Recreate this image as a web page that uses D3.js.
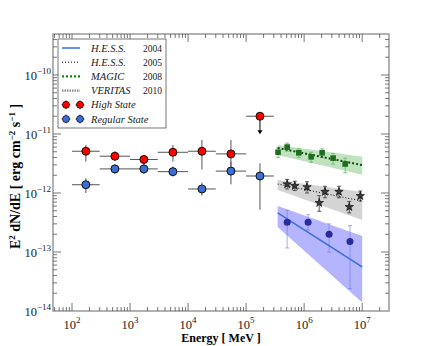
<!DOCTYPE html>
<html>
<head>
<meta charset="utf-8">
<script src="https://cdn.jsdelivr.net/npm/d3@7"></script>
<style>
  body { margin: 0; background: #fff; }
  svg text { font-family: "Liberation Serif", "DejaVu Serif", serif; }
</style>
</head>
<body>
<div id="main"></div>
<script>
// Fermi-LAT bins (MeV): edges and fluxes (erg cm^-2 s^-1)
const binEdges = [[100, 300], [300, 1000], [1000, 3000], [3000, 1e4], [1e4, 3e4], [3e4, 1e5], [1e5, 3e5]];
const highFlux = [5.1e-12, 4.2e-12, 3.7e-12, 4.9e-12, 5.1e-12, 4.6e-12];
const highLo   = [3.4e-12, 3.5e-12, 3.1e-12, 3.4e-12, 2.5e-12, 2.8e-12];
const highHi   = [6.5e-12, 5.1e-12, 4.4e-12, 6.5e-12, 7.9e-12, 7.9e-12];
const highUL   = 2.0e-11;   // last bin upper limit
const regFlux  = [1.38e-12, 2.56e-12, 2.56e-12, 2.3e-12, 1.17e-12, 2.35e-12, 1.94e-12];
const regLo    = [1.0e-12, 2.1e-12, 2.1e-12, 1.9e-12, 0.9e-12, 1.4e-12, 5.2e-13];
const regHi    = [1.78e-12, 3.1e-12, 3.1e-12, 2.8e-12, 1.5e-12, 3.4e-12, 3.2e-12];

// H.E.S.S. 2004
const hess04E    = [5.1e5, 1.17e6, 2.69e6, 6.17e6];
const hess04F    = [3.2e-13, 3.2e-13, 2.0e-13, 1.5e-13];
const hess04Lo   = [1.17e-13, 2.35e-13, 1.0e-13, 2.4e-14];
const hess04Hi   = [5.1e-13, 4.3e-13, 3.0e-13, 2.8e-13];
const hess04Fit  = [[3.5e5, 4.6e-13], [1e7, 5.6e-14]];
const hess04Band = [[3.5e5, 6.0e-13], [1e7, 1.87e-13], [1e7, 1.4e-14], [3.5e5, 2.65e-13]];

// H.E.S.S. 2005
const hess05E    = [5.1e5, 6.9e5, 1.12e6, 1.82e6, 2.29e6, 3.98e6, 6.0e6, 9.3e6];
const hess05F    = [1.41e-12, 1.32e-12, 1.26e-12, 6.8e-13, 1.05e-12, 1.05e-12, 5.8e-13, 8.9e-13];
const hess05Lo   = [1.17e-12, 1.1e-12, 1.0e-12, 4.9e-13, 8.3e-13, 8.3e-13, 4.6e-13, 7.3e-13];
const hess05Hi   = [1.7e-12, 1.58e-12, 1.55e-12, 9.0e-13, 1.3e-12, 1.3e-12, 7.2e-13, 1.08e-12];
const hess05Fit  = [[3.5e5, 1.42e-12], [1e7, 7.3e-13]];
const hess05Band = [[3.5e5, 1.66e-12], [1e7, 1.04e-12], [1e7, 3.5e-13], [3.5e5, 1.12e-12]];

// MAGIC 2008
const magicE    = [3.55e5, 5.1e5, 8.1e5, 1.32e6, 2.04e6, 3.16e6, 5.1e6];
const magicF    = [4.9e-12, 6.0e-12, 4.8e-12, 4.1e-12, 4.8e-12, 3.9e-12, 3.1e-12];
const magicLo   = [4.0e-12, 5.1e-12, 4.0e-12, 3.3e-12, 4.0e-12, 3.1e-12, 2.2e-12];
const magicHi   = [5.8e-12, 7.0e-12, 5.6e-12, 4.9e-12, 5.6e-12, 4.7e-12, 3.9e-12];
const magicFit  = [[3.5e5, 5.8e-12], [1e7, 2.97e-12]];
const magicBand = [[3.5e5, 6.5e-12], [1e7, 4.1e-12], [1e7, 2.04e-12], [3.5e5, 4.4e-12]];

const xTickLabels = ["2", "3", "4", "5", "6", "7"];
const yTickLabels = ["−14", "−13", "−12", "−11", "−10"];

const legendRows = [
  {name: "H.E.S.S.", year: "2004", kind: "line", color: "#3b6fd8", dash: null, width: 1.5},
  {name: "H.E.S.S.", year: "2005", kind: "line", color: "#000", dash: "1,2", width: 1},
  {name: "MAGIC", year: "2008", kind: "line", color: "#0a8a0a", dash: "2,2", width: 2.2},
  {name: "VERITAS", year: "2010", kind: "line", color: "#888", dash: "1.5,1", width: 2.2},
  {name: "High State", year: "", kind: "pt", color: "#ff0000"},
  {name: "Regular State", year: "", kind: "pt", color: "#3b6fd8"}
];

const W = 432, H = 346;
const m = {left: 53, top: 34, right: 389, bottom: 311};

const svg = d3.select("#main").append("svg").attr("width", W).attr("height", H);

const x = d3.scaleLog().domain([47, 2.9e7]).range([m.left, m.right]);
const y = d3.scaleLog().domain([1e-14, 4.95e-10]).range([m.bottom, m.top]);

const gBands = svg.append("g");
const gMarks = svg.append("g");

function polygon(pts, fill, op) {
  gBands.append("path")
    .attr("d", "M" + pts.map(p => x(p[0]) + "," + y(p[1])).join("L") + "Z")
    .attr("fill", fill).attr("fill-opacity", op).attr("stroke", "none");
}
function fitLine(pts, color, dash, width) {
  gMarks.append("line")
    .attr("x1", x(pts[0][0])).attr("y1", y(pts[0][1]))
    .attr("x2", x(pts[1][0])).attr("y2", y(pts[1][1]))
    .attr("stroke", color).attr("stroke-width", width)
    .attr("stroke-dasharray", dash);
}
function vErr(E, lo, hi, color, width, cap, op) {
  E.forEach((e, i) => {
    const cx = x(e);
    gMarks.append("line").attr("x1", cx).attr("x2", cx)
      .attr("y1", y(lo[i])).attr("y2", y(hi[i]))
      .attr("stroke", color).attr("stroke-width", width).attr("stroke-opacity", op);
    if (cap) {
      [lo[i], hi[i]].forEach(v => {
        gMarks.append("line").attr("x1", cx - cap).attr("x2", cx + cap)
          .attr("y1", y(v)).attr("y2", y(v))
          .attr("stroke", color).attr("stroke-width", width).attr("stroke-opacity", op);
      });
    }
  });
}

// bands
polygon(magicBand, "#2ca02c", 0.3);
polygon(hess05Band, "#a0a0a0", 0.45);
polygon(hess04Band, "#4444ff", 0.4);

// HESS 2004
vErr(hess04E, hess04Lo, hess04Hi, "#7777dd", 1, 2, 0.6);
fitLine(hess04Fit, "#3b6fd8", null, 1.6);
gMarks.selectAll(".h04").data(hess04E).enter().append("circle")
  .attr("cx", d => x(d)).attr("cy", (d, i) => y(hess04F[i])).attr("r", 3.5)
  .attr("fill", "#2b2b9b");

// HESS 2005
vErr(hess05E, hess05Lo, hess05Hi, "#333", 0.8, 2, 1);
fitLine(hess05Fit, "#000", "1,2", 1);
const star = d3.symbol().type(d3.symbolStar).size(22);
gMarks.selectAll(".h05").data(hess05E).enter().append("path")
  .attr("d", star)
  .attr("transform", (d, i) => `translate(${x(d)},${y(hess05F[i])})`)
  .attr("fill", "#3a3a3a").attr("stroke", "#000").attr("stroke-width", 0.6);

// MAGIC
vErr(magicE, magicLo, magicHi, "#6ab86a", 0.8, 2, 1);
fitLine(magicFit, "#0b4f0b", "2,2", 2);
gMarks.selectAll(".mg").data(magicE).enter().append("rect")
  .attr("x", d => x(d) - 2.8).attr("y", (d, i) => y(magicF[i]) - 2.8)
  .attr("width", 5.6).attr("height", 5.6).attr("fill", "#1e6e1e");

// Fermi points
function fermi(flux, lo, hi, color) {
  flux.forEach((f, i) => {
    const e = binEdges[i];
    const cx = x(Math.sqrt(e[0] * e[1]));
    gMarks.append("line").attr("x1", x(e[0])).attr("x2", x(e[1]))
      .attr("y1", y(f)).attr("y2", y(f)).attr("stroke", "#555").attr("stroke-width", 1);
    gMarks.append("line").attr("x1", cx).attr("x2", cx)
      .attr("y1", y(lo[i])).attr("y2", y(hi[i])).attr("stroke", "#555").attr("stroke-width", 1);
  });
  flux.forEach((f, i) => {
    const e = binEdges[i];
    gMarks.append("circle").attr("cx", x(Math.sqrt(e[0] * e[1]))).attr("cy", y(f))
      .attr("r", 4).attr("fill", color).attr("stroke", "#000").attr("stroke-width", 0.9);
  });
}
fermi(regFlux, regLo, regHi, "#3b6fd8");
fermi(highFlux, highLo, highHi, "#ff0000");

// upper limit
{
  const e = binEdges[6];
  const cx = x(Math.sqrt(e[0] * e[1]));
  const cy = y(highUL);
  gMarks.append("line").attr("x1", x(e[0])).attr("x2", x(e[1])).attr("y1", cy).attr("y2", cy)
    .attr("stroke", "#555").attr("stroke-width", 1);
  gMarks.append("line").attr("x1", cx).attr("x2", cx).attr("y1", cy).attr("y2", cy + 15)
    .attr("stroke", "#000").attr("stroke-width", 1);
  gMarks.append("path").attr("d", `M${cx - 2.5},${cy + 14}L${cx + 2.5},${cy + 14}L${cx},${cy + 18}Z`)
    .attr("fill", "#000");
  gMarks.append("circle").attr("cx", cx).attr("cy", cy).attr("r", 4)
    .attr("fill", "#ff0000").attr("stroke", "#000").attr("stroke-width", 0.9);
}

// frame
svg.append("rect").attr("x", m.left).attr("y", m.top)
  .attr("width", m.right - m.left).attr("height", m.bottom - m.top)
  .attr("fill", "none").attr("stroke", "#999").attr("stroke-width", 1.5);

// ticks
const gT = svg.append("g").attr("stroke", "#555").attr("stroke-width", 0.8);
function isMajor(v) { return Math.abs(Math.log10(v) - Math.round(Math.log10(v))) < 1e-6; }
x.ticks().forEach(v => {
  const L = isMajor(v) ? 8 : 4, px = x(v);
  if (px < m.left + 1 || px > m.right - 1) return;
  gT.append("line").attr("x1", px).attr("x2", px).attr("y1", m.bottom).attr("y2", m.bottom - L);
  gT.append("line").attr("x1", px).attr("x2", px).attr("y1", m.top).attr("y2", m.top + L);
});
y.ticks().forEach(v => {
  const L = isMajor(v) ? 8 : 4, py = y(v);
  if (py < m.top + 1 || py > m.bottom - 1) return;
  gT.append("line").attr("y1", py).attr("y2", py).attr("x1", m.left).attr("x2", m.left + L);
  gT.append("line").attr("y1", py).attr("y2", py).attr("x1", m.right).attr("x2", m.right - L);
});

// tick labels
xTickLabels.forEach(s => {
  const t = svg.append("text").attr("x", x(Math.pow(10, +s))).attr("y", 329)
    .attr("text-anchor", "middle").attr("font-size", 12.5).attr("fill", "#222");
  t.append("tspan").text("10");
  t.append("tspan").attr("dy", -6).attr("font-size", 9).text(s);
});
yTickLabels.forEach(s => {
  const v = Math.pow(10, -(+s.replace("−", "")));
  const t = svg.append("text").attr("x", 51).attr("y", y(v) + 5)
    .attr("text-anchor", "end").attr("font-size", 12.5).attr("fill", "#222");
  t.append("tspan").text("10");
  t.append("tspan").attr("dy", -6).attr("font-size", 9).text(s);
});

// axis titles
svg.append("text").attr("x", (m.left + m.right) / 2).attr("y", 342)
  .attr("text-anchor", "middle").attr("font-size", 12).attr("font-weight", "bold")
  .text("Energy [ MeV ]");
{
  const t = svg.append("text").attr("transform", `translate(20,${(m.top + m.bottom) / 2 + 4}) rotate(-90)`)
    .attr("text-anchor", "middle").attr("font-size", 14).attr("font-weight", "bold");
  t.append("tspan").text("E");
  t.append("tspan").attr("dy", -5).attr("font-size", 9).text("2");
  t.append("tspan").attr("dy", 5).text(" dN/dE [ erg cm");
  t.append("tspan").attr("dy", -5).attr("font-size", 9).text("−2");
  t.append("tspan").attr("dy", 5).text(" s");
  t.append("tspan").attr("dy", -5).attr("font-size", 9).text("−1");
  t.append("tspan").attr("dy", 5).text(" ]");
}

// legend
const lg = svg.append("g");
lg.append("rect").attr("x", 58).attr("y", 39).attr("width", 108).attr("height", 89)
  .attr("fill", "#fff").attr("stroke", "#555").attr("stroke-width", 0.8);
legendRows.forEach((r, i) => {
  const cy = 48 + i * 14.2;
  if (r.kind === "line") {
    lg.append("line").attr("x1", 62).attr("x2", 80).attr("y1", cy).attr("y2", cy)
      .attr("stroke", r.color).attr("stroke-width", r.width).attr("stroke-dasharray", r.dash);
  } else {
    [66, 80].forEach(px => {
      lg.append("line").attr("x1", px - 4.5).attr("x2", px + 4.5).attr("y1", cy).attr("y2", cy)
        .attr("stroke", "#555").attr("stroke-width", 1);
      lg.append("line").attr("x1", px).attr("x2", px).attr("y1", cy - 4.5).attr("y2", cy + 4.5)
        .attr("stroke", "#555").attr("stroke-width", 1);
      lg.append("circle").attr("cx", px).attr("cy", cy).attr("r", 3.5)
        .attr("fill", r.color).attr("stroke", "#000").attr("stroke-width", 0.7);
    });
  }
  lg.append("text").attr("x", 91).attr("y", cy + 3.5).attr("font-size", 10.5)
    .attr("font-style", "italic").attr("fill", "#222").text(r.name);
  if (r.year) {
    lg.append("text").attr("x", 162).attr("y", cy + 3.5).attr("font-size", 9.5)
      .attr("text-anchor", "end").attr("fill", "#222").text(r.year);
  }
});
</script>
</body>
</html>
